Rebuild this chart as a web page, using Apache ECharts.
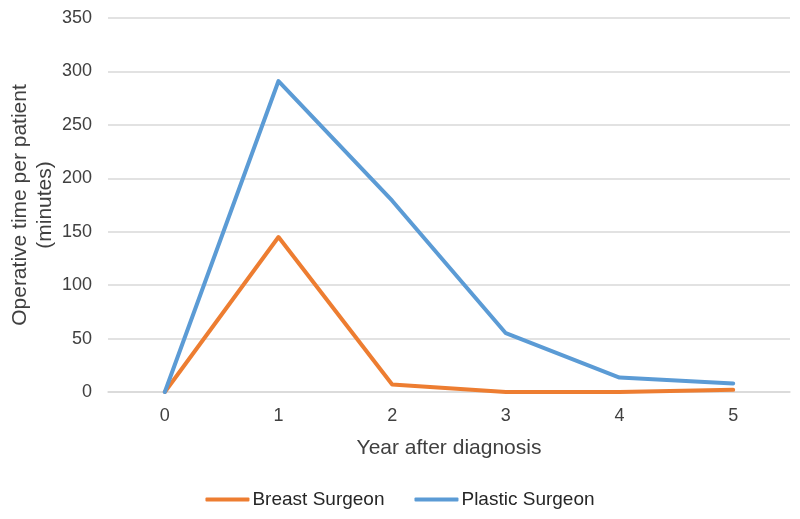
<!DOCTYPE html>
<html>
<head>
<meta charset="utf-8">
<script src="https://cdn.jsdelivr.net/npm/echarts@6/dist/echarts.min.js"></script>
<style>html,body{margin:0;padding:0;background:#fff}#c{width:800px;height:519px}</style>
</head>
<body>
<div id="c"></div>
<script>
var categories = ['0', '1', '2', '3', '4', '5'];
var breastSurgeon = [0, 145, 7, 0, 0, 2];
var plasticSurgeon = [0, 291, 179, 55, 13.5, 8];
var seriesNames = ['Breast Surgeon', 'Plastic Surgeon'];

var chart = echarts.init(document.getElementById('c'));
var font = 'Liberation Sans, Arial, sans-serif';
chart.setOption({
  animation: false,
  backgroundColor: '#ffffff',
  grid: { left: 108, right: 10, top: 18, bottom: 127, containLabel: false, outerBoundsMode: 'none' },
  legend: {
    data: seriesNames.map(function (n) { return { name: n, icon: 'roundRect' }; }),
    top: 485, left: 'center',
    itemWidth: 44, itemHeight: 4, itemGap: 30,
    textStyle: { fontFamily: font, fontSize: 19, color: '#262626', padding: [0, 0, 0, -2] }
  },
  xAxis: {
    type: 'category',
    data: categories,
    boundaryGap: true,
    name: 'Year after diagnosis',
    nameLocation: 'middle',
    nameGap: 46,
    nameMoveOverlap: false,
    nameTextStyle: { fontFamily: font, fontSize: 21, color: '#404040' },
    axisLine: { show: true, lineStyle: { color: '#d9d9d9', width: 1.5 } },
    axisTick: { show: false },
    axisLabel: { fontFamily: font, fontSize: 18, color: '#404040', margin: 15 }
  },
  yAxis: {
    type: 'value',
    min: 0, max: 350, interval: 50,
    name: 'Operative time per patient\n(minutes)',
    nameLocation: 'middle',
    nameGap: 50,
    nameMoveOverlap: false,
    nameTextStyle: { fontFamily: font, fontSize: 21, color: '#404040', lineHeight: 25 },
    axisLine: { show: false },
    axisTick: { show: false },
    axisLabel: { fontFamily: font, fontSize: 18, color: '#404040', margin: 16 },
    splitLine: { lineStyle: { color: '#d9d9d9', width: 1.5 } }
  },
  series: [
    {
      name: seriesNames[0], type: 'line', data: breastSurgeon,
      symbol: 'none', color: '#ED7D31',
      lineStyle: { width: 4, color: '#ED7D31', cap: 'round', join: 'round' }
    },
    {
      name: seriesNames[1], type: 'line', data: plasticSurgeon,
      symbol: 'none', color: '#5B9BD5',
      lineStyle: { width: 4, color: '#5B9BD5', cap: 'round', join: 'round' }
    }
  ]
});
</script>
</body>
</html>
